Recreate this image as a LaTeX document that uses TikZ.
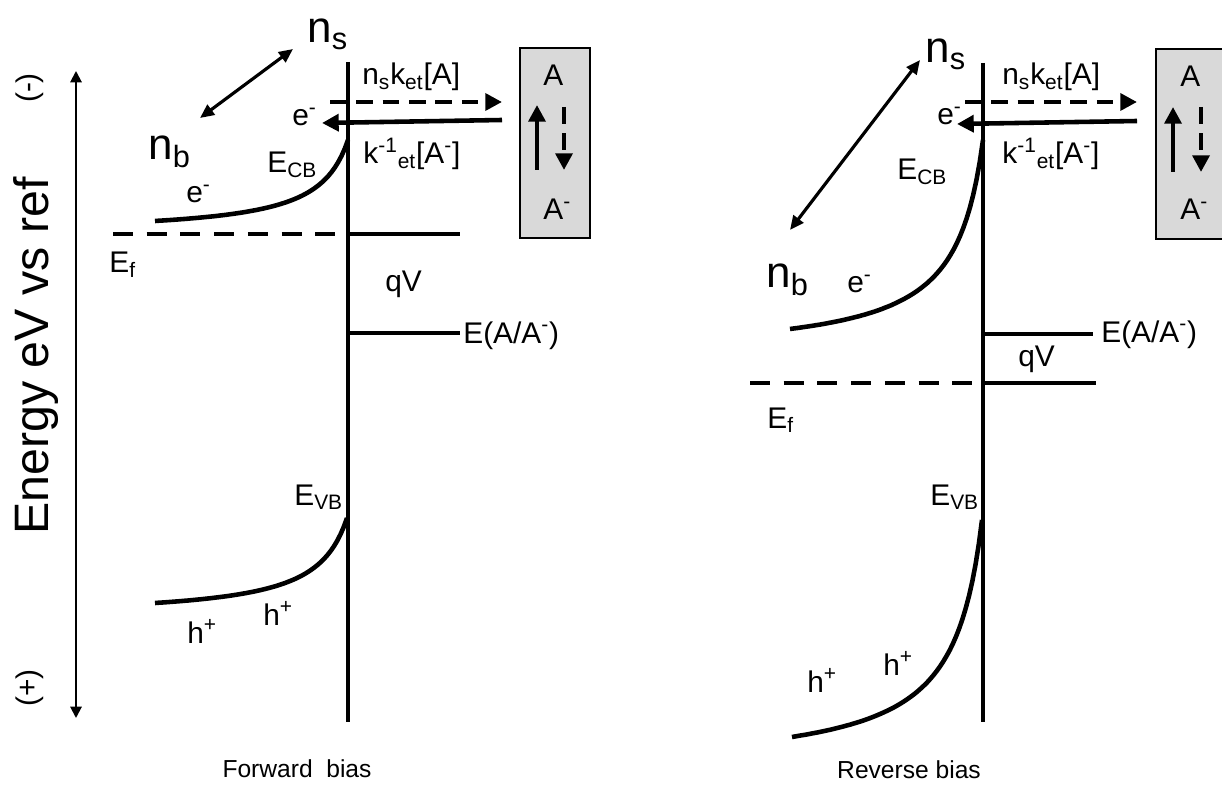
\documentclass[tikz,border=0pt]{standalone}
\usepackage{fontspec}
\setmainfont{Liberation Sans}
\usetikzlibrary{arrows.meta}
\definecolor{boxgray}{RGB}{217,217,217}

\begin{document}
\begin{tikzpicture}[x=0.02cm, y=-0.02cm,
    >={Triangle[length=9.5pt,width=9.5pt]},
    txt/.style={inner sep=0pt, anchor=base west, font=\fontsize{17}{20}\selectfont},
    bigtxt/.style={inner sep=0pt, anchor=base west, font=\fontsize{25}{30}\selectfont},
    captxt/.style={inner sep=0pt, anchor=base, font=\fontsize{14}{17}\selectfont},
    edgeline/.style={line width=2.7pt},
    bandline/.style={line width=2.6pt},
    fermi/.style={line width=2.7pt, dash pattern=on 11.3pt off 7.9pt},
    rateline/.style={line width=2.6pt, ->},
    ratedash/.style={rateline, dash pattern=on 9.5pt off 5.5pt},
    exchange/.style={line width=1.8pt, {Triangle[length=8pt,width=7pt]}-{Triangle[length=8pt,width=7pt]}},
    redoxbox/.style={fill=boxgray, draw=black, line width=0.9pt}]

    \useasboundingbox (0,0) rectangle (1222,793);
    \clip (0,0) rectangle (1222,793);
    \fill[white] (0,0) rectangle (1222,793);

    % Energy axis
    \coordinate (axtop) at (76,71);
    \coordinate (axbot) at (76,718);
    \draw[line width=1.1pt, {Triangle[length=6.5pt,width=6.5pt]}-{Triangle[length=6.5pt,width=6.5pt]}] (axbot) -- (axtop);
    \node[rotate=90, inner sep=0pt, anchor=base, font=\fontsize{27.5}{32}\selectfont] (axlabel) at (48,356) {Energy eV vs ref};
    \node[rotate=90, inner sep=0pt, font=\fontsize{17}{20}\selectfont] (minus) at (30,88) {(-)};
    \node[rotate=90, inner sep=0pt, font=\fontsize{17}{20}\selectfont] (plus) at (30,688) {(+)};

    %%%%% Forward bias %%%%%

    % Interface
    \draw[edgeline] (348,62) -- (348,722);

    % Bands
    \draw[bandline] plot[domain=155:348, samples=60] (\x, {221 - 3022*(1/(380-\x) - 1/225)});
    \draw[bandline] plot[domain=155:347, samples=60] (\x, {603 - 3287*(1/(380-\x) - 1/225)});

    % Fermi level and redox level
    \draw[fermi] (113,234) -- (348,234);
    \draw[edgeline] (348,234) -- (460,234);
    \draw[edgeline] (348,333) -- (460,333);

    % Redox couple
    \draw[redoxbox] (520,48) rectangle (590,238);
    \node[txt] (aL) at (543,86) {A};
    \node[txt] (amL) at (543,220) {A\textsuperscript{-}};
    \draw[rateline] (537,170) -- (537,105);
    \draw[ratedash] (564,107) -- (564,170);

    % Charge transfer
    \coordinate (fwdstartL) at (330,102);
    \coordinate (fwdendL) at (502,102);
    \coordinate (backstartL) at (502,120);
    \coordinate (backendL) at (322,123);
    \draw[ratedash] (fwdstartL) -- (fwdendL);
    \draw[rateline] (backstartL) -- (backendL);

    % Surface and bulk electrons
    \node[bigtxt] (nsL) at (307,43) {n\textsubscript{s}};
    \node[bigtxt] (nbL) at (148,160) {n\textsubscript{b}};
    \coordinate (nbtipL) at (200,118);
    \coordinate (nstipL) at (293,49);
    \draw[exchange] (nbtipL) -- (nstipL);

    % Labels
    \node[txt] (eL1) at (186,203) {e\textsuperscript{-}};
    \node[txt] (eL2) at (292,126) {e\textsuperscript{-}};
    \node[txt] (ecbL) at (267,173) {E\textsubscript{CB}};
    \node[txt] (fwdL) at (362,85) {n\textsubscript{s}k\textsubscript{et}[A]};
    \node[txt] (backL) at (363,164) {k\textsuperscript{-1}\textsubscript{et}[A\textsuperscript{-}]};
    \node[txt] (efL) at (109,273) {E\textsubscript{f}};
    \node[txt] (qvL) at (385,292) {qV};
    \node[txt] (redoxL) at (463,343) {E(A/A\textsuperscript{-})};
    \node[txt] (evbL) at (294,505) {E\textsubscript{VB}};
    \node[txt] (hL1) at (187,643) {h\textsuperscript{+}};
    \node[txt] (hL2) at (263,625) {h\textsuperscript{+}};
    \node[captxt] (capL) at (297,777) {Forward~ bias};

    %%%%% Reverse bias %%%%%

    % Interface
    \draw[edgeline] (983,63) -- (983,722);

    % Bands
    \draw[bandline] plot[domain=790:983, samples=60] (\x, {329 - 6305*(1/(1012-\x) - 1/222)});
    \draw[bandline] plot[domain=792:982, samples=60] (\x, {737 - 7538*(1/(1012-\x) - 1/220)});

    % Redox level and Fermi level
    \draw[edgeline] (983,334) -- (1093,334);
    \draw[fermi] (750,383) -- (983,383);
    \draw[edgeline] (983,383) -- (1096,383);

    % Redox couple
    \draw[redoxbox] (1156,49) rectangle (1235,239);
    \node[txt] (aR) at (1180,87) {A};
    \node[txt] (amR) at (1180,220) {A\textsuperscript{-}};
    \draw[rateline] (1173,172) -- (1173,107);
    \draw[ratedash] (1201,107) -- (1201,172);

    % Charge transfer
    \coordinate (fwdstartR) at (965,102);
    \coordinate (fwdendR) at (1137,102);
    \coordinate (backstartR) at (1137,121);
    \coordinate (backendR) at (957,124);
    \draw[ratedash] (fwdstartR) -- (fwdendR);
    \draw[rateline] (backstartR) -- (backendR);

    % Surface and bulk electrons
    \node[bigtxt] (nsR) at (925,63) {n\textsubscript{s}};
    \node[bigtxt] (nbR) at (766,288) {n\textsubscript{b}};
    \coordinate (nbtipR) at (790,230);
    \coordinate (nstipR) at (920,60);
    \draw[exchange] (nbtipR) -- (nstipR);

    % Labels
    \node[txt] (eR1) at (847,293) {e\textsuperscript{-}};
    \node[txt] (eR2) at (937,125) {e\textsuperscript{-}};
    \node[txt] (ecbR) at (897,180) {E\textsubscript{CB}};
    \node[txt] (fwdR) at (1002,85) {n\textsubscript{s}k\textsubscript{et}[A]};
    \node[txt] (backR) at (1002,164) {k\textsuperscript{-1}\textsubscript{et}[A\textsuperscript{-}]};
    \node[txt] (redoxR) at (1101,342) {E(A/A\textsuperscript{-})};
    \node[txt] (qvR) at (1018,366) {qV};
    \node[txt] (efR) at (767,428) {E\textsubscript{f}};
    \node[txt] (evbR) at (930,505) {E\textsubscript{VB}};
    \node[txt] (hR1) at (807,692) {h\textsuperscript{+}};
    \node[txt] (hR2) at (883,675) {h\textsuperscript{+}};
    \node[captxt] (capR) at (909,778) {Reverse bias};

\end{tikzpicture}
\end{document}
